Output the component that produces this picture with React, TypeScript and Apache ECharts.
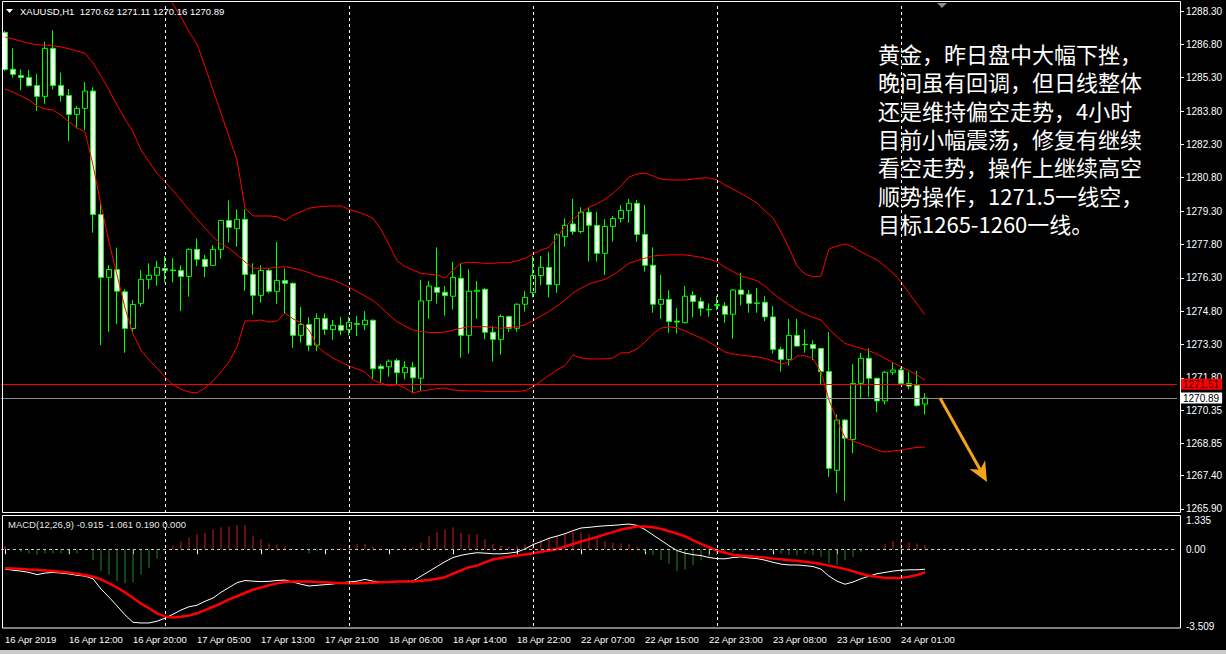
import React, { useEffect, useRef } from "react";
import * as echarts from "echarts";

// ---------- time axis ----------
const sessions = [
  { day: "16 Apr", from: 4, to: 23 },
  { day: "17 Apr", from: 1, to: 23 },
  { day: "18 Apr", from: 1, to: 23 },
  { day: "22 Apr", from: 1, to: 23 },
  { day: "23 Apr", from: 1, to: 23 },
  { day: "24 Apr", from: 1, to: 4 },
];
const emptySlots = 31;
const timeLabels = [
  "16 Apr 2019", "16 Apr 12:00", "16 Apr 20:00", "17 Apr 05:00", "17 Apr 13:00",
  "17 Apr 21:00", "18 Apr 06:00", "18 Apr 14:00", "18 Apr 22:00", "22 Apr 07:00",
  "22 Apr 15:00", "22 Apr 23:00", "23 Apr 08:00", "23 Apr 16:00", "24 Apr 01:00",
];
const labelStep = 8;
const separators = [20, 43, 66, 89, 112];

// ---------- price axis ----------
const priceTicks = [
  1288.3, 1286.8, 1285.3, 1283.8, 1282.3, 1280.8, 1279.3, 1277.8,
  1276.3, 1274.8, 1273.3, 1271.8, 1270.35, 1268.85, 1267.4, 1265.9,
];
const priceMin = 1265.72;
const priceMax = 1288.66;
const askLine = 1271.51;
const bidLine = 1270.89;

// ---------- candles ----------
const open = [
  1287.34, 1285.68, 1285.40, 1285.31, 1284.95, 1284.46, 1286.62, 1284.95, 1284.50, 1283.65,
  1283.92, 1284.70, 1279.15, 1276.32, 1276.67, 1275.67, 1274.02, 1275.15, 1276.23, 1276.41,
  1276.72, 1276.65, 1276.63, 1276.36, 1277.58, 1277.13, 1276.86, 1277.58, 1278.88, 1278.51,
  1278.93, 1276.45, 1275.51, 1276.63, 1275.69, 1276.18, 1276.05, 1273.71, 1274.20, 1273.27,
  1274.47, 1273.97, 1274.16, 1273.97, 1274.24, 1274.19, 1274.39, 1272.32, 1272.30, 1272.58,
  1272.03, 1272.27, 1271.78, 1275.27, 1275.87, 1275.65, 1275.47, 1276.28, 1273.71, 1275.69,
  1275.78, 1273.85, 1273.53, 1274.56, 1274.03, 1275.11, 1275.63, 1276.40, 1276.77, 1275.99,
  1278.15, 1278.72, 1278.38, 1279.25, 1278.66, 1277.40, 1278.61, 1278.97, 1279.32, 1279.65,
  1278.25, 1276.86, 1275.11, 1275.33, 1274.35, 1274.28, 1275.51, 1275.23, 1274.88, 1275.05,
  1275.03, 1274.66, 1275.75, 1275.56, 1275.17, 1275.20, 1274.54, 1273.08, 1272.63, 1273.71,
  1273.31, 1273.30, 1273.12, 1272.08, 1267.64, 1269.90, 1269.03, 1271.55, 1272.68, 1271.78,
  1270.76, 1272.05, 1272.15, 1271.55, 1271.45, 1270.62,
];
const high = [
  1287.40, 1286.62, 1285.67, 1285.65, 1285.47, 1286.92, 1287.44, 1285.53, 1284.79, 1284.02,
  1285.11, 1284.87, 1279.65, 1276.87, 1277.66, 1275.78, 1275.30, 1276.65, 1276.95, 1277.07,
  1277.28, 1277.19, 1276.86, 1277.62, 1278.07, 1277.32, 1277.76, 1278.90, 1279.78, 1279.38,
  1279.38, 1276.95, 1276.86, 1276.72, 1277.91, 1276.72, 1276.10, 1274.98, 1274.53, 1274.70,
  1274.70, 1274.40, 1274.55, 1274.55, 1274.58, 1274.80, 1274.43, 1272.42, 1272.63, 1272.67,
  1272.55, 1272.51, 1276.20, 1276.16, 1277.67, 1275.93, 1277.01, 1276.95, 1276.68, 1276.16,
  1275.85, 1274.13, 1274.65, 1274.60, 1275.15, 1275.70, 1277.28, 1277.28, 1277.46, 1278.30,
  1278.97, 1279.85, 1279.47, 1279.47, 1279.27, 1278.93, 1279.08, 1279.57, 1279.85, 1279.80,
  1279.58, 1277.67, 1276.43, 1275.75, 1274.94, 1275.93, 1275.70, 1275.42, 1275.15, 1275.47,
  1275.21, 1275.80, 1276.52, 1275.75, 1275.84, 1275.48, 1275.03, 1273.20, 1274.45, 1274.45,
  1273.99, 1273.48, 1273.15, 1273.86, 1270.16, 1269.95, 1272.42, 1272.92, 1273.13, 1271.80,
  1272.11, 1272.48, 1272.25, 1272.08, 1272.11, 1271.11,
];
const low = [
  1285.60, 1285.30, 1284.74, 1284.90, 1283.80, 1284.13, 1284.77, 1284.22, 1282.46, 1283.02,
  1282.95, 1278.33, 1273.27, 1273.87, 1274.22, 1272.93, 1273.80, 1275.00, 1275.80, 1275.94,
  1276.10, 1276.10, 1274.80, 1275.45, 1276.83, 1276.32, 1276.83, 1277.16, 1277.89, 1277.70,
  1275.72, 1274.64, 1275.18, 1275.60, 1275.13, 1274.70, 1273.15, 1273.39, 1273.00, 1273.00,
  1273.73, 1273.50, 1273.73, 1273.70, 1273.68, 1273.95, 1271.76, 1271.57, 1271.85, 1271.52,
  1271.73, 1271.10, 1271.22, 1274.46, 1275.14, 1274.60, 1274.87, 1272.70, 1272.88, 1274.46,
  1273.53, 1272.53, 1272.84, 1273.86, 1273.88, 1274.78, 1275.42, 1275.97, 1275.42, 1275.63,
  1277.70, 1278.23, 1278.30, 1277.03, 1277.03, 1276.42, 1277.92, 1278.78, 1278.78, 1277.92,
  1276.58, 1274.73, 1274.46, 1273.83, 1273.79, 1274.25, 1274.52, 1274.58, 1274.55, 1274.85,
  1274.28, 1273.56, 1275.05, 1274.73, 1274.73, 1274.35, 1272.89, 1272.08, 1272.35, 1273.20,
  1272.93, 1272.60, 1271.46, 1267.35, 1266.63, 1266.27, 1268.40, 1270.85, 1270.95, 1270.25,
  1270.61, 1271.93, 1271.50, 1271.28, 1270.50, 1270.16,
];
const close = [
  1285.67, 1285.45, 1285.31, 1284.94, 1284.46, 1286.62, 1284.95, 1284.50, 1283.65, 1283.92,
  1284.70, 1279.15, 1276.32, 1276.67, 1275.70, 1274.02, 1275.10, 1276.23, 1276.41, 1276.77,
  1276.63, 1276.62, 1276.36, 1277.58, 1277.13, 1276.81, 1277.58, 1278.88, 1278.57, 1278.93,
  1276.45, 1275.51, 1276.63, 1275.69, 1276.18, 1276.05, 1273.71, 1274.20, 1273.27, 1274.47,
  1273.98, 1274.16, 1273.94, 1274.30, 1274.21, 1274.39, 1272.21, 1272.21, 1272.55, 1272.03,
  1272.27, 1271.80, 1275.26, 1275.93, 1275.65, 1275.50, 1276.32, 1273.71, 1275.69, 1275.74,
  1273.85, 1273.53, 1274.56, 1274.03, 1275.11, 1275.42, 1276.40, 1276.77, 1275.99, 1278.23,
  1278.66, 1278.38, 1279.25, 1278.66, 1277.40, 1278.61, 1278.97, 1279.33, 1279.65, 1278.25,
  1276.86, 1275.11, 1275.33, 1274.33, 1274.31, 1275.47, 1275.23, 1274.93, 1274.86, 1275.10,
  1274.66, 1275.75, 1275.56, 1275.15, 1275.15, 1274.54, 1273.08, 1272.63, 1273.71, 1273.23,
  1273.29, 1273.12, 1272.08, 1267.73, 1269.90, 1269.08, 1271.55, 1272.68, 1271.78, 1270.76,
  1272.05, 1272.15, 1271.55, 1271.43, 1270.55, 1270.89,
];

// ---------- Bollinger bands ----------
const bbUpper = [
  null, null, null, null, null, null, null, null, null, null,
  null, null, null, null, null, null, null, null, null, null,
  1289.20, 1288.61, 1288.03, 1287.37, 1286.82, 1285.80, 1284.75, 1283.70, 1282.65, 1281.60,
  1279.44, 1279.08, 1279.08, 1279.08, 1279.05, 1278.87, 1279.12, 1279.27, 1279.43, 1279.48,
  1279.52, 1279.53, 1279.53, 1279.37, 1279.28, 1279.14, 1278.98, 1278.48, 1277.78, 1277.07,
  1276.80, 1276.65, 1276.50, 1276.46, 1276.43, 1276.28, 1276.65, 1276.95, 1277.00, 1276.98,
  1276.95, 1276.95, 1276.98, 1276.98, 1277.06, 1277.18, 1277.37, 1277.55, 1277.67, 1278.12,
  1278.60, 1278.93, 1279.23, 1279.47, 1279.62, 1279.83, 1280.10, 1280.43, 1280.83, 1280.97,
  1281.01, 1280.88, 1280.74, 1280.70, 1280.70, 1280.70, 1280.74, 1280.79, 1280.79, 1280.70,
  1280.47, 1280.29, 1280.09, 1279.89, 1279.66, 1279.30, 1278.99, 1278.36, 1277.64, 1276.83,
  1276.47, 1276.34, 1276.38, 1277.60, 1277.73, 1277.82, 1277.69, 1277.46, 1277.28, 1277.10,
  1276.83, 1276.52, 1276.11, 1275.62, 1275.12, 1274.63,
];
const bbMiddle = [
  1287.13, 1287.04, 1286.95, 1286.85, 1286.78, 1286.76, 1286.73, 1286.69, 1286.60, 1286.50,
  1286.40, 1285.97, 1285.38, 1284.75, 1284.07, 1283.44, 1282.87, 1282.05, 1281.52, 1281.00,
  1280.62, 1280.22, 1279.80, 1279.35, 1278.94, 1278.53, 1278.15, 1277.82, 1277.63, 1277.33,
  1277.02, 1276.73, 1276.73, 1276.73, 1276.77, 1276.80, 1276.73, 1276.65, 1276.53, 1276.38,
  1276.30, 1276.20, 1276.05, 1275.87, 1275.68, 1275.48, 1275.27, 1274.97, 1274.63, 1274.33,
  1274.13, 1273.95, 1273.88, 1273.85, 1273.83, 1273.86, 1273.95, 1274.03, 1274.10, 1274.10,
  1274.10, 1274.06, 1274.03, 1274.07, 1274.10, 1274.18, 1274.37, 1274.58, 1274.78, 1275.03,
  1275.30, 1275.63, 1275.83, 1276.02, 1276.13, 1276.23, 1276.43, 1276.68, 1276.95, 1277.07,
  1277.18, 1277.28, 1277.31, 1277.33, 1277.33, 1277.33, 1277.28, 1277.22, 1277.13, 1277.03,
  1276.77, 1276.58, 1276.38, 1276.28, 1276.17, 1275.93, 1275.60, 1275.33, 1275.08, 1274.85,
  1274.67, 1274.52, 1274.40, 1273.98, 1273.65, 1273.35, 1273.23, 1273.13, 1273.02, 1272.87,
  1272.68, 1272.48, 1272.30, 1272.12, 1271.93, 1271.70,
];
const bbLower = [
  1284.79, 1284.66, 1284.48, 1284.30, 1284.03, 1283.89, 1283.85, 1283.62, 1283.31, 1283.04,
  1282.86, 1281.37, 1279.57, 1277.91, 1276.43, 1274.94, 1273.77, 1273.05, 1272.60, 1272.24,
  1271.84, 1271.48, 1271.29, 1271.16, 1271.12, 1271.34, 1271.66, 1272.06, 1272.51, 1273.19,
  1274.36, 1274.36, 1274.40, 1274.31, 1274.36, 1274.72, 1274.45, 1274.27, 1273.95, 1273.23,
  1272.92, 1272.69, 1272.51, 1272.33, 1272.20, 1272.06, 1271.70, 1271.57, 1271.43, 1271.50,
  1271.34, 1271.12, 1271.21, 1271.25, 1271.32, 1271.34, 1271.25, 1271.23, 1271.21, 1271.21,
  1271.19, 1271.19, 1271.19, 1271.19, 1271.19, 1271.22, 1271.40, 1271.66, 1271.91, 1272.15,
  1272.35, 1272.83, 1272.69, 1272.65, 1272.65, 1272.65, 1272.69, 1272.92, 1272.93, 1273.10,
  1273.41, 1273.77, 1274.04, 1274.09, 1274.06, 1273.91, 1273.75, 1273.59, 1273.41, 1273.19,
  1272.96, 1272.87, 1272.83, 1272.78, 1272.75, 1272.67, 1272.56, 1272.42, 1272.51, 1272.78,
  1272.80, 1272.67, 1272.06, 1270.80, 1269.90, 1269.10, 1268.96, 1268.82, 1268.71, 1268.55,
  1268.46, 1268.51, 1268.55, 1268.62, 1268.67, 1268.69,
];

// ---------- MACD panel ----------
const macdTicks = [1.335, 0, -3.509];
const macdMin = -3.509;
const macdMax = 1.335;
const macdLine = [
  -0.91, -0.96, -1.00, -1.06, -1.16, -1.09, -1.06, -1.09, -1.13, -1.19,
  -1.23, -1.35, -1.82, -2.19, -2.59, -3.00, -3.34, -3.37, -3.37, -3.29,
  -3.15, -2.97, -2.78, -2.63, -2.56, -2.38, -2.23, -1.97, -1.75, -1.53,
  -1.43, -1.46, -1.48, -1.47, -1.43, -1.41, -1.50, -1.60, -1.68, -1.65,
  -1.62, -1.59, -1.53, -1.50, -1.46, -1.38, -1.46, -1.50, -1.50, -1.48,
  -1.47, -1.46, -1.23, -1.01, -0.79, -0.57, -0.38, -0.28, -0.21, -0.16,
  -0.18, -0.21, -0.21, -0.18, -0.13, 0.01, 0.21, 0.35, 0.50, 0.60,
  0.71, 0.85, 0.97, 1.00, 1.04, 1.07, 1.09, 1.12, 1.15, 1.09,
  0.90, 0.65, 0.41, 0.16, -0.06, -0.18, -0.25, -0.29, -0.38, -0.43,
  -0.44, -0.38, -0.35, -0.40, -0.43, -0.50, -0.60, -0.68, -0.72, -0.72,
  -0.75, -0.79, -0.91, -1.23, -1.46, -1.60, -1.50, -1.35, -1.23, -1.12,
  -1.06, -1.00, -0.96, -0.94, -0.94, -0.915,
];
const signalLine = [
  -0.87, -0.88, -0.90, -0.93, -0.94, -0.97, -1.00, -1.03, -1.06, -1.12,
  -1.18, -1.26, -1.38, -1.56, -1.75, -1.97, -2.23, -2.48, -2.70, -2.93,
  -3.07, -3.12, -3.09, -3.03, -2.93, -2.78, -2.63, -2.48, -2.29, -2.15,
  -2.00, -1.85, -1.75, -1.65, -1.56, -1.50, -1.47, -1.47, -1.48, -1.50,
  -1.51, -1.53, -1.54, -1.56, -1.56, -1.54, -1.53, -1.51, -1.50, -1.48,
  -1.47, -1.47, -1.44, -1.41, -1.35, -1.28, -1.12, -0.97, -0.82, -0.75,
  -0.60, -0.47, -0.40, -0.34, -0.29, -0.24, -0.18, -0.12, -0.06, 0.01,
  0.12, 0.24, 0.35, 0.46, 0.56, 0.68, 0.78, 0.90, 0.97, 1.04,
  1.04, 1.00, 0.93, 0.82, 0.71, 0.59, 0.41, 0.24, 0.09, -0.06,
  -0.16, -0.25, -0.29, -0.32, -0.35, -0.38, -0.43, -0.46, -0.50, -0.53,
  -0.57, -0.62, -0.68, -0.75, -0.82, -0.91, -1.01, -1.12, -1.21, -1.26,
  -1.31, -1.31, -1.31, -1.26, -1.18, -1.061,
];
const histogram = [
  0.15, -0.05, -0.13, -0.20, -0.25, -0.18, -0.18, -0.18, -0.20, -0.18,
  -0.03, -0.50, -1.01, -1.16, -1.46, -1.56, -1.50, -1.16, -0.87, -0.43,
  -0.06, 0.16, 0.35, 0.53, 0.68, 0.75, 0.90, 1.00, 1.04, 1.09,
  1.09, 0.60, 0.46, 0.26, 0.21, 0.12, 0.03, -0.03, -0.18, -0.09,
  0.0, 0.03, 0.06, 0.12, 0.24, 0.24, 0.12, 0.03, -0.01, 0.03,
  0.06, 0.09, 0.31, 0.60, 0.79, 0.90, 1.00, 0.75, 0.68, 0.68,
  0.46, 0.24, 0.16, 0.12, 0.16, 0.21, 0.31, 0.41, 0.53, 0.60,
  0.71, 0.79, 0.75, 0.68, 0.53, 0.38, 0.31, 0.26, 0.24, 0.09,
  -0.13, -0.28, -0.50, -0.65, -1.01, -0.94, -0.72, -0.50, -0.35, -0.28,
  -0.21, -0.13, -0.06, -0.01, 0.03, -0.03, -0.13, -0.21, -0.25, -0.28,
  -0.21, -0.28, -0.35, -0.65, -0.72, -0.50, -0.35, -0.13, -0.03, 0.03,
  0.24, 0.38, 0.41, 0.31, 0.26, 0.19,
];
const macdTitle = "MACD(12,26,9) -0.915 -1.061 0.190 0.000";
const symbolTitle = "XAUUSD,H1";

const noteLines = [
  "黄金，昨日盘中大幅下挫，",
  "晚间虽有回调，但日线整体",
  "还是维持偏空走势，4小时",
  "目前小幅震荡，修复有继续",
  "看空走势，操作上继续高空",
  "顺势操作，1271.5一线空，",
  "目标1265-1260一线。",
];

const FONT = "Liberation Sans";

export default function App() {
  const ref = useRef<HTMLDivElement>(null);
  useEffect(() => {
    if (!ref.current) return;
    const chart = echarts.init(ref.current, undefined, { renderer: "svg" });

    const barTimes: string[] = [];
    sessions.forEach((s) => {
      for (let h = s.from; h <= s.to; h++) barTimes.push(`${s.day} ${String(h).padStart(2, "0")}:00`);
    });
    const cats = [...barTimes, ...Array.from({ length: emptySlots }, (_, k) => `+${k + 1}`)];
    const candles = barTimes.map((_, i) => [open[i], close[i], low[i], high[i]]);
    const last = open.length - 1;
    const header = `${symbolTitle}  ${open[last].toFixed(2)} ${high[last].toFixed(2)} ${low[last].toFixed(2)} ${close[last].toFixed(2)}`;

    const showTick = (i: number) => i % labelStep === 0 && i / labelStep < timeLabels.length;
    const sepLine = (i: number) => ({
      xAxis: i,
      lineStyle: { color: "#ffffff", type: [3, 3], width: 1 },
      label: { show: false },
    });

    // arrow geometry (annotation)
    const tip = [987, 482];
    const tail = [940, 398];
    const dx = tip[0] - tail[0];
    const dy = tip[1] - tail[1];
    const len = Math.hypot(dx, dy);
    const ux = dx / len, uy = dy / len;
    const px = -uy, py = ux;
    const base = [tip[0] - 20 * ux, tip[1] - 20 * uy];
    const notch = [tip[0] - 14 * ux, tip[1] - 14 * uy];
    const c1 = [base[0] + 9 * px, base[1] + 9 * py];
    const c2 = [base[0] - 9 * px, base[1] - 9 * py];

    const noteTexts = noteLines.map((t, k) => ({
      type: "text", z: 60, x: 878, y: 53 + k * 28.3,
      style: { text: t, fill: "#ffffff", fontSize: 22, fontFamily: "Noto Sans CJK SC", verticalAlign: "middle" },
      silent: true,
    }));

    const option: any = {
      animation: false,
      backgroundColor: "#000000",
      textStyle: { fontFamily: FONT },
      grid: [
        { left: 1, top: 3, width: 1176, height: 510 },
        { left: 1, top: 520, width: 1176, height: 106 },
      ],
      xAxis: [
        {
          type: "category", gridIndex: 0, data: cats, boundaryGap: true,
          axisLine: { show: false }, axisTick: { show: false }, axisLabel: { show: false }, splitLine: { show: false },
        },
        {
          type: "category", gridIndex: 1, data: cats, boundaryGap: true, offset: 2,
          axisLine: { show: false },
          axisTick: { show: true, alignWithLabel: true, interval: (i: number) => showTick(i), length: 5, lineStyle: { color: "#ffffff" } },
          axisLabel: {
            show: true, interval: (i: number) => showTick(i),
            formatter: (_v: string, i: number) => (showTick(i) ? timeLabels[i / labelStep] : ""),
            align: "left", margin: 6, color: "#ffffff", fontSize: 9.5, fontFamily: FONT,
          },
          splitLine: { show: false },
        },
      ],
      yAxis: [
        {
          type: "value", gridIndex: 0, position: "right", offset: 3, min: priceMin, max: priceMax, scale: true,
          axisLine: { show: false }, splitLine: { show: false },
          axisTick: { show: true, length: 4, lineStyle: { color: "#ffffff" }, customValues: priceTicks },
          axisLabel: { color: "#ffffff", fontSize: 10, fontFamily: FONT, margin: 6, customValues: priceTicks, formatter: (v: number) => v.toFixed(2) },
        },
        {
          type: "value", gridIndex: 1, position: "right", offset: 3, min: macdMin, max: macdMax,
          axisLine: { show: false }, splitLine: { show: false },
          axisTick: { show: false, customValues: macdTicks },
          axisLabel: {
            color: "#ffffff", fontSize: 10, fontFamily: FONT, margin: 6, customValues: macdTicks,
            formatter: (v: number) => (v === 0 ? "0.00" : v.toFixed(3)),
          },
        },
      ],
      series: [
        {
          type: "candlestick", xAxisIndex: 0, yAxisIndex: 0, data: candles, barWidth: 5,
          itemStyle: {
            color: "#000000", color0: "#ffffff", borderColor: "#00ff00", borderColor0: "#00ff00",
            borderColorDoji: "#00ff00", borderWidth: 1,
          },
          markLine: {
            silent: true, symbol: ["none", "none"], animation: false,
            data: [
              ...separators.map(sepLine),
              {
                yAxis: askLine, lineStyle: { color: "#ff0000", type: "solid", width: 1 },
                label: {
                  show: true, position: "end", distance: 3, formatter: askLine.toFixed(2),
                  backgroundColor: "#ff0000", color: "#300000", padding: [1, 3, 0, 3], fontSize: 10, fontFamily: FONT,
                },
              },
              {
                yAxis: bidLine, lineStyle: { color: "#8c8c8c", type: "solid", width: 1 },
                label: {
                  show: true, position: "end", distance: 3, formatter: bidLine.toFixed(2),
                  backgroundColor: "#ffffff", color: "#000000", padding: [1, 3, 0, 3], fontSize: 10, fontFamily: FONT,
                },
              },
            ],
          },
        },
        ...[bbUpper, bbMiddle, bbLower].map((d) => ({
          type: "line", xAxisIndex: 0, yAxisIndex: 0, data: d, symbol: "none", connectNulls: false,
          lineStyle: { color: "#ff0000", width: 1 }, silent: true,
        })),
        {
          type: "bar", xAxisIndex: 1, yAxisIndex: 1, data: histogram, barWidth: 1,
          itemStyle: { color: (p: any) => (p.value >= 0 ? "#d41a1a" : "#1f8a1f") },
          markLine: {
            silent: true, symbol: ["none", "none"], animation: false,
            data: [
              { yAxis: 0, lineStyle: { color: "#c8c8c8", type: [3, 3], width: 1 }, label: { show: false } },
              ...separators.map(sepLine),
            ],
          },
        },
        {
          type: "line", xAxisIndex: 1, yAxisIndex: 1, data: macdLine, symbol: "none",
          lineStyle: { color: "#ffffff", width: 1 }, silent: true,
        },
        {
          type: "line", xAxisIndex: 1, yAxisIndex: 1, data: signalLine, symbol: "none",
          lineStyle: { color: "#ff0000", width: 2.5 }, silent: true,
        },
      ],
      graphic: [
        { type: "rect", z: 50, shape: { x: 2.5, y: 1.5, width: 1178, height: 511 }, style: { fill: "none", stroke: "#ffffff", lineWidth: 1 }, silent: true },
        { type: "rect", z: 50, shape: { x: 2.5, y: 515.5, width: 1178, height: 112.5 }, style: { fill: "none", stroke: "#ffffff", lineWidth: 1 }, silent: true },
        { type: "rect", z: 50, shape: { x: 0, y: 650, width: 1226, height: 4 }, style: { fill: "#c8c8c8" }, silent: true },
        { type: "polygon", z: 60, shape: { points: [[6, 9], [13, 9], [9.5, 13]] }, style: { fill: "#ffffff" }, silent: true },
        { type: "text", z: 60, x: 20, y: 11, style: { text: header, fill: "#ffffff", fontSize: 9.5, fontFamily: FONT, verticalAlign: "middle" }, silent: true },
        { type: "polygon", z: 60, shape: { points: [[937, 3], [947, 3], [942, 8]] }, style: { fill: "#8a8a8a" }, silent: true },
        { type: "text", z: 60, x: 8, y: 524, style: { text: macdTitle, fill: "#e6e6e6", fontSize: 9.5, fontFamily: FONT, verticalAlign: "middle" }, silent: true },
        ...noteTexts,
        { type: "line", z: 60, shape: { x1: tail[0], y1: tail[1], x2: notch[0], y2: notch[1] }, style: { stroke: "#f5a31a", lineWidth: 3 }, silent: true },
        { type: "polygon", z: 60, shape: { points: [tip, c1, notch, c2] }, style: { fill: "#f5a31a" }, silent: true },
      ],
    };
    chart.setOption(option);
    return () => chart.dispose();
  }, []);
  return (
    <div
      ref={ref}
      style={{ position: "fixed", left: 0, top: 0, width: 1226, height: 654, background: "#000" }}
    />
  );
}
